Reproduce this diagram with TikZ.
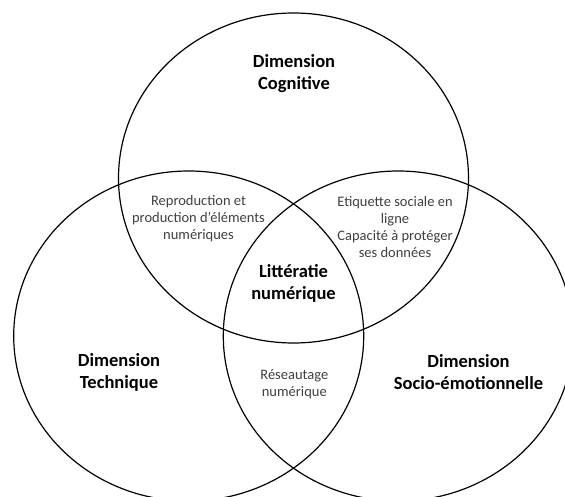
\documentclass[tikz,border=0pt]{standalone}
\usepackage{fontspec}
\setmainfont{Carlito}
\usetikzlibrary{shapes.geometric}
\definecolor{smalltext}{HTML}{404040}
\tikzset{
  venn/.style={draw=black, line width=1.2pt, ellipse, inner sep=0pt, outer sep=0pt,
               minimum width=350pt, minimum height=330pt},
  bigtext/.style={align=center, text=black, font=\fontsize{18.5}{22}\selectfont\bfseries, inner sep=0pt},
  smalltxt/.style={align=center, text=smalltext, font=\fontsize{14.5}{17}\selectfont, inner sep=0pt}
}
\begin{document}
\begin{tikzpicture}[x=1pt,y=-1pt]
\useasboundingbox (0,0) rectangle (565,497);
\clip (0,0) rectangle (565,497);
\fill[white] (0,0) rectangle (565,497);
\node[venn] (cog) at (293.5,178) {};
\node[venn] (tech) at (188.7,336) {};
\node[venn] (socio) at (398.3,336) {};
\node[bigtext] (tcog) at (294,73.5) {Dimension\\Cognitive};
\node[bigtext] (ttech) at (119,372) {Dimension\\Technique};
\node[bigtext] (tsocio) at (468.5,372) {Dimension\\Socio-émotionnelle};
\node[bigtext] (tlit) at (293.5,283) {Littératie\\numérique};
\node[smalltxt] (trep) at (198.5,218.5) {Reproduction et\\production d’éléments\\numériques};
\node[smalltxt] (teti) at (395,227) {Etiquette sociale en\\ligne\\Capacité à protéger\\ses données};
\node[smalltxt] (tres) at (294.3,384.5) {Réseautage\\numérique};
\end{tikzpicture}
\end{document}
